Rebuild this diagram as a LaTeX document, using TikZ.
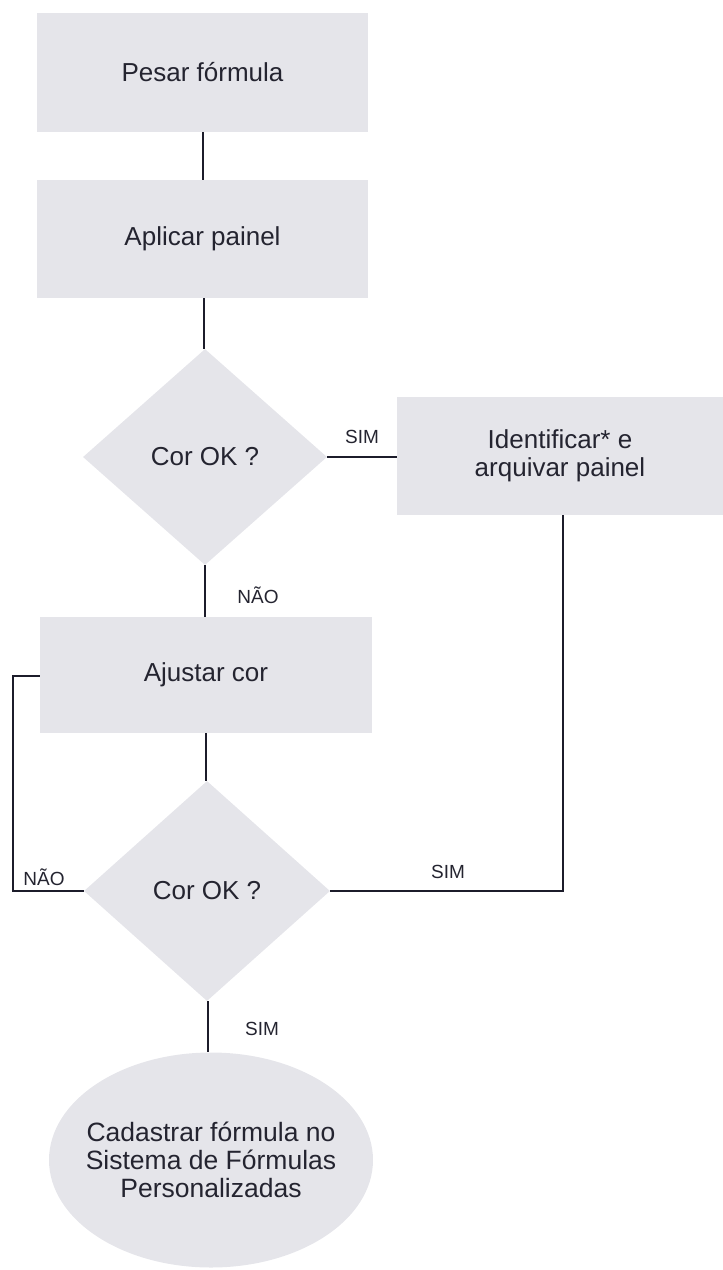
\documentclass[tikz,border=0pt]{standalone}
\usepackage{fontspec}
\setmainfont{Liberation Sans}
\usetikzlibrary{shapes.geometric}
\definecolor{boxfill}{RGB}{229,229,234}
\definecolor{ink}{RGB}{36,36,48}
\definecolor{wire}{RGB}{28,28,42}
\tikzset{
  stepbox/.style={rectangle, fill=boxfill, draw=none, inner sep=0pt, text=ink,
    font=\fontsize{26}{28}\selectfont, align=center},
  decision/.style={diamond, fill=boxfill, draw=none, inner sep=0pt, text=ink,
    font=\fontsize{26}{28}\selectfont, align=center},
  terminal/.style={ellipse, fill=boxfill, draw=none, inner xsep=-14pt, inner ysep=0pt, text=ink,
    font=\fontsize{26.5}{28}\selectfont, align=center},
  wirel/.style={draw=wire, line width=2pt},
  lbl/.style={text=ink, font=\fontsize{19}{22}\selectfont, inner sep=0pt}
}
\begin{document}
\begin{tikzpicture}[x=1pt,y=-1pt]
\useasboundingbox (0,0) rectangle (723,1270);
\node[stepbox, minimum width=331pt, minimum height=119pt] (b1) at (202.5,72.5) {Pesar fórmula};
\node[stepbox, minimum width=331pt, minimum height=118pt] (b2) at (202.5,239) {Aplicar painel};
\node[decision, minimum width=244pt, minimum height=216pt] (d1) at (205,457) {Cor OK ?};
\node[stepbox, minimum width=326pt, minimum height=118pt] (b3) at (560,456) {Identificar* e\\arquivar painel};
\node[stepbox, minimum width=332pt, minimum height=116pt] (b4) at (206,675) {Ajustar cor};
\node[decision, minimum width=246pt, minimum height=220pt] (d2) at (207,891) {Cor OK ?};
\node[terminal, minimum width=324pt, minimum height=215pt] (e) at (211,1160) {Cadastrar fórmula no\\Sistema de Fórmulas\\Personalizadas};

\coordinate (loopb) at (13,891);
\coordinate (loopt) at (13,676);

\draw[wirel] (b1.south -| 203,0) -- (b2.north -| 203,0);
\draw[wirel] (b2.south -| 204,0) -- (d1.north -| 204,0);
\draw[wirel] (d1.east) -- (b3.west |- d1.east);
\draw[wirel] (d1.south) -- (b4.north -| d1.south);
\draw[wirel] (b4.south -| 206,0) -- (d2.north -| 206,0);
\draw[wirel] (d2.west) -- (loopb) -- (loopt) -- (b4.west |- loopt);
\draw[wirel] (b3.south -| 563,0) |- (d2.east);
\draw[wirel] (d2.south -| 208,0) -- (e.north -| 208,0);

\node[lbl] (l1) at (362,437) {SIM};
\node[lbl] (l2) at (258,595) {NÃO};
\node[lbl] (l3) at (44,877) {NÃO};
\node[lbl] (l4) at (448,872) {SIM};
\node[lbl] (l5) at (262,1029) {SIM};
\end{tikzpicture}
\end{document}
